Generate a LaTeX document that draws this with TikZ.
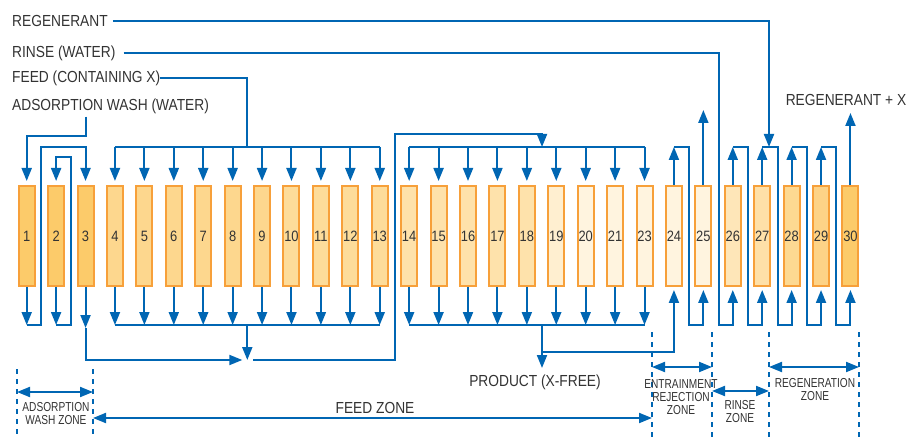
\documentclass[tikz,border=0pt]{standalone}
\usepackage{fontspec}
\setmainfont{Liberation Sans}
\newfontfamily\labfont{Liberation Sans}[FakeStretch=0.86]
\newfontfamily\zonefont{Liberation Sans}[FakeStretch=0.78]
\usetikzlibrary{arrows.meta,calc}
\definecolor{flow}{RGB}{0,102,179}
\definecolor{edge}{RGB}{247,160,58}
\definecolor{txt}{RGB}{51,51,51}
\definecolor{fA}{HTML}{FCCB6A}
\definecolor{fB}{HTML}{FDD78E}
\definecolor{fC}{HTML}{FDDC9A}
\definecolor{fD}{HTML}{FEE2AB}
\definecolor{fE}{HTML}{FFEFD0}
\definecolor{fF}{HTML}{FFF4DF}
\definecolor{fG}{HTML}{FEE6B8}
\definecolor{fH}{HTML}{FEE0A8}
\definecolor{fI}{HTML}{FDD992}
\definecolor{fJ}{HTML}{FDD387}
\tikzset{
  flowline/.style={draw=flow, line width=2pt},
  flowarrow/.style={flowline, -{Triangle[length=13pt,width=10pt]}},
  tank/.style={draw=edge, line width=2pt, minimum width=16pt, minimum height=100pt,
    inner sep=0pt, font=\labfont\fontsize{15}{15}\selectfont, text=txt},
  lab/.style={font=\labfont\fontsize{16}{16}\selectfont, text=txt, inner sep=0pt},
  zonelab/.style={font=\zonefont\fontsize{13}{13}\selectfont, text=txt, align=center, inner sep=0pt},
  zonesep/.style={draw=flow, line width=1.8pt, dash pattern=on 5pt off 5pt},
  zonearrow/.style={flowline, {Triangle[length=13pt,width=10pt]}-{Triangle[length=13pt,width=10pt]}},
}
\begin{document}
\begin{tikzpicture}[x=1pt,y=-1pt]
\useasboundingbox (0,0) rectangle (910,438);

% tanks
\foreach \ii/\nn/\cc in {1/1/fA,2/2/fA,3/3/fA,4/4/fB,5/5/fB,6/6/fB,7/7/fB,8/8/fB,9/9/fB,
  10/10/fC,11/11/fC,12/12/fC,13/13/fC,14/14/fD,15/15/fD,16/16/fD,17/17/fD,18/18/fD,
  19/19/fE,20/20/fF,21/21/fF,22/23/fF,23/24/fF,24/25/fF,25/26/fG,26/27/fH,27/28/fI,28/29/fJ,29/30/fA}
  \node[tank, fill=\cc] (t\nn) at ({26.7+(\ii-1)*29.42},236) {\nn};

% levels and bends
\coordinate (yDist) at (0,147);
\coordinate (yDistB) at (0,157);
\coordinate (yCol) at (0,325);
\coordinate (yHigh) at (0,134);
\coordinate (yBr) at (0,352);
\coordinate (yProd) at (0,368);
\coordinate (yOutA) at (0,110);
\coordinate (yOutB) at (0,113);
\coordinate (yAW) at (0,136);
\coordinate (g12) at (41.4,0);
\coordinate (g23) at (70.8,0);
\coordinate (gF) at (247.3,0);
\coordinate (g1314) at (395,0);
\coordinate (gP) at (542,0);
\coordinate (g2425) at (689,0);
\coordinate (g2526) at (719,0);
\coordinate (g2627) at (748,0);
\coordinate (gR) at (769,0);
\coordinate (g2728) at (778,0);
\coordinate (g2829) at (807,0);
\coordinate (g2930) at (836,0);
\coordinate (merge) at (247.3,360);

% labels
\node[lab, anchor=west] (regen) at (12,21) {REGENERANT};
\node[lab, anchor=west] (rinse) at (12,53) {RINSE (WATER)};
\node[lab, anchor=west] (feed) at (12,78) {FEED (CONTAINING X)};
\node[lab, anchor=west] (aw) at (12,106) {ADSORPTION WASH (WATER)};
\node[lab] (regx) at (846,100) {REGENERANT + X};
\node[lab] (prod) at (535,382) {PRODUCT (X-FREE)};

% adsorption wash zone
\draw[flowarrow, shorten >=4pt] ([yshift=-3pt]aw.south -| t3.north) |- (t1.north |- yAW) -- (t1.north);
\draw[flowarrow] (t1.south) -- (t1.south |- yCol);
\draw[flowarrow, shorten >=4pt] (t1.south |- yCol) -| (g12 |- yDist) -| (t3.north);
\draw[flowarrow] (t2.south) -- (t2.south |- yCol);
\draw[flowarrow, shorten >=4pt] (t2.south |- yCol) -| (g23 |- yDistB) -| (t2.north);

% feed zone, first group
\draw[flowline] (feed.east) -| (gF |- yDist);
\draw[flowline] (t4.north |- yDist) -- (t13.north |- yDist);
\draw[flowline] (t4.south |- yCol) -- (t13.south |- yCol);
\foreach \k in {4,...,13}{
  \draw[flowarrow, shorten >=4pt] (t\k.north |- yDist) -- (t\k.north);
  \draw[flowarrow] (t\k.south) -- (t\k.south |- yCol);
}
\draw[flowarrow] (t3.south) -- ([yshift=-3pt]t3.south |- yCol);
\draw[flowarrow, shorten >=5pt] ([yshift=-3pt]t3.south |- yCol) |- (merge);
\draw[flowarrow] (gF |- yCol) -- (merge);
\draw[flowarrow] ([xshift=6pt]merge) -| (g1314 |- yHigh) -| (gP |- yDist);

% feed zone, second group
\draw[flowline] (t14.north |- yDist) -- (t23.north |- yDist);
\draw[flowline] (t14.south |- yCol) -- (t23.south |- yCol);
\foreach \k in {14,...,21,23}{
  \draw[flowarrow, shorten >=4pt] (t\k.north |- yDist) -- (t\k.north);
  \draw[flowarrow] (t\k.south) -- (t\k.south |- yCol);
}
\draw[flowarrow] (gP |- yCol) -- (gP |- yProd);
\draw[flowarrow, shorten >=3pt] (gP |- yBr) -| (t24.south);

% entrainment rejection
\draw[flowarrow] (t24.north) -- (t24.north |- yDist);
\draw[flowarrow, shorten >=3pt] (t24.north |- yDist) -| (g2425 |- yCol) -| (t25.south);
\draw[flowarrow] (t25.north) -- (t25.north |- yOutA);

% rinse
\draw[flowarrow, shorten >=3pt] ([xshift=8pt]rinse.east) -| (g2526 |- yCol) -| (t26.south);
\draw[flowarrow] (t26.north) -- (t26.north |- yDist);
\draw[flowarrow, shorten >=3pt] (t26.north |- yDist) -| (g2627 |- yCol) -| (t27.south);

% regeneration
\draw[flowarrow] ([xshift=5pt]regen.east) -| (gR |- yDist);
\draw[flowarrow] (t27.north) -- (t27.north |- yDist);
\draw[flowarrow, shorten >=3pt] (t27.north |- yDist) -| (g2728 |- yCol) -| (t28.south);
\draw[flowarrow] (t28.north) -- (t28.north |- yDist);
\draw[flowarrow, shorten >=3pt] (t28.north |- yDist) -| (g2829 |- yCol) -| (t29.south);
\draw[flowarrow] (t29.north) -- (t29.north |- yDist);
\draw[flowarrow, shorten >=3pt] (t29.north |- yDist) -| (g2930 |- yCol) -| (t30.south);
\draw[flowarrow] (t30.north) -- (t30.north |- yOutB);

% zones
\coordinate (zA) at (17,369);
\coordinate (zB) at (93,369);
\coordinate (zC) at (652,332);
\coordinate (zD) at (712,332);
\coordinate (zE) at (769,332);
\coordinate (zF) at (859,332);
\coordinate (yBot) at (0,438);
\coordinate (yZ1) at (0,392);
\coordinate (yZ2) at (0,418);
\coordinate (yZ3) at (0,367);
\coordinate (yZ4) at (0,391);
\foreach \z in {zA,zB,zC,zD,zE,zF}
  \draw[zonesep] (\z) -- (\z |- yBot);
\draw[zonearrow] (zA |- yZ1) -- (zB |- yZ1);
\draw[zonearrow] (zB |- yZ2) -- (zC |- yZ2);
\draw[zonearrow] (zC |- yZ3) -- (zD |- yZ3);
\draw[zonearrow] (zD |- yZ4) -- (zE |- yZ4);
\draw[zonearrow] (zE |- yZ3) -- (zF |- yZ3);

\node[zonelab] (awz) at (56,414) {ADSORPTION\\WASH ZONE};
\node[lab] (fz) at (375,408) {FEED ZONE};
\node[zonelab] (erz) at (681,397) {ENTRAINMENT\\REJECTION\\ZONE};
\node[zonelab] (rz) at (740,412) {RINSE\\ZONE};
\node[zonelab] (rgz) at (815,390) {REGENERATION\\ZONE};
\end{tikzpicture}
\end{document}
